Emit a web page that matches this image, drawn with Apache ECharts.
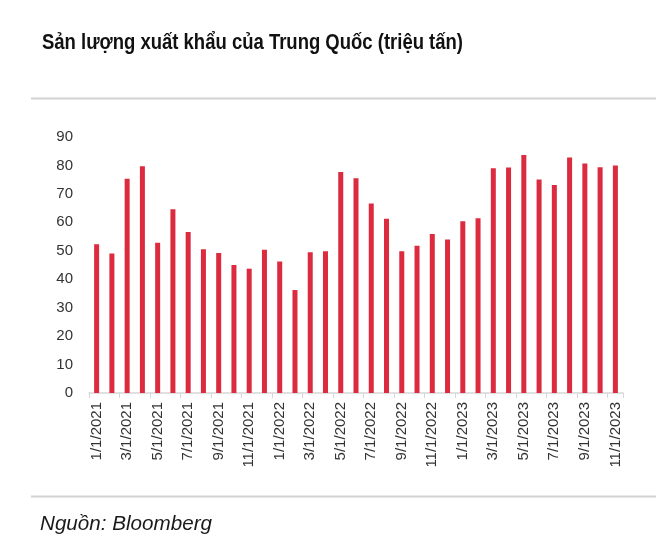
<!DOCTYPE html>
<html>
<head>
<meta charset="utf-8">
<script src="https://cdn.jsdelivr.net/npm/echarts@6/dist/echarts.min.js"></script>
<style>
html,body{margin:0;padding:0;background:#fff;}
#c{width:666px;height:550px;}
</style>
</head>
<body>
<div id="c"></div>
<script>
const titleText = 'Sản lượng xuất khẩu của Trung Quốc (triệu tấn)';
const sourceText = 'Nguồn: Bloomberg';
const categories = [
  '1/1/2021','2/1/2021','3/1/2021','4/1/2021','5/1/2021','6/1/2021','7/1/2021','8/1/2021','9/1/2021','10/1/2021','11/1/2021','12/1/2021',
  '1/1/2022','2/1/2022','3/1/2022','4/1/2022','5/1/2022','6/1/2022','7/1/2022','8/1/2022','9/1/2022','10/1/2022','11/1/2022','12/1/2022',
  '1/1/2023','2/1/2023','3/1/2023','4/1/2023','5/1/2023','6/1/2023','7/1/2023','8/1/2023','9/1/2023','10/1/2023','11/1/2023'
];
const exportVolume = [
  52.3, 49.0, 75.3, 79.7, 52.8, 64.6, 56.6, 50.5, 49.2, 45.0, 43.7, 50.4,
  46.2, 36.2, 49.5, 49.8, 77.7, 75.5, 66.6, 61.3, 49.8, 51.8, 55.9, 54.0,
  60.4, 61.4, 79.0, 79.3, 83.7, 75.1, 73.1, 82.8, 80.7, 79.4, 80.0
];
const yMin = 0, yMax = 90, yStep = 10;

const sans = '"Liberation Sans", Arial, sans-serif';
const titleFont = 'bold 22px ' + sans;
const sourceFont = 'italic 20px ' + sans;
const ctx = document.createElement('canvas').getContext('2d');
function fitScale(text, font, target) {
  ctx.font = font;
  const w = ctx.measureText(text).width;
  return w > 0 ? target / w : 1;
}
const titleScale = fitScale(titleText, titleFont, 421);
const sourceScale = fitScale(sourceText, sourceFont, 172);

const chart = echarts.init(document.getElementById('c'), null, {renderer: 'canvas'});
chart.setOption({
  animation: false,
  backgroundColor: '#ffffff',
  graphic: [
    {type: 'text', x: 42, y: 32, scaleX: titleScale, style: {text: titleText, font: titleFont, fill: '#111111'}},
    {type: 'rect', shape: {x: 31, y: 97.5, width: 625, height: 2}, style: {fill: '#d2d2d2'}},
    {type: 'rect', shape: {x: 31, y: 495.5, width: 625, height: 2}, style: {fill: '#d2d2d2'}},
    {type: 'text', x: 40, y: 514, scaleX: sourceScale, style: {text: sourceText, font: sourceFont, fill: '#1a1a1a'}}
  ],
  grid: {left: 89, right: 43, top: 137, bottom: 157, containLabel: false},
  xAxis: {
    type: 'category',
    data: categories,
    boundaryGap: true,
    axisLine: {show: true, lineStyle: {color: '#d6d6d6', width: 1.5}},
    axisTick: {show: true, interval: 1, length: 5, lineStyle: {color: '#d6d6d6'}},
    axisLabel: {interval: 1, rotate: 90, margin: 9, fontFamily: sans, fontSize: 15, color: '#333333'}
  },
  yAxis: {
    type: 'value',
    min: yMin, max: yMax, interval: yStep,
    axisLine: {show: false},
    axisTick: {show: false},
    splitLine: {show: false},
    axisLabel: {margin: 16, fontFamily: sans, fontSize: 15, color: '#333333'}
  },
  series: [{
    type: 'bar',
    data: exportVolume,
    barWidth: 5,
    itemStyle: {color: '#dc2a3e'}
  }]
});
</script>
</body>
</html>
